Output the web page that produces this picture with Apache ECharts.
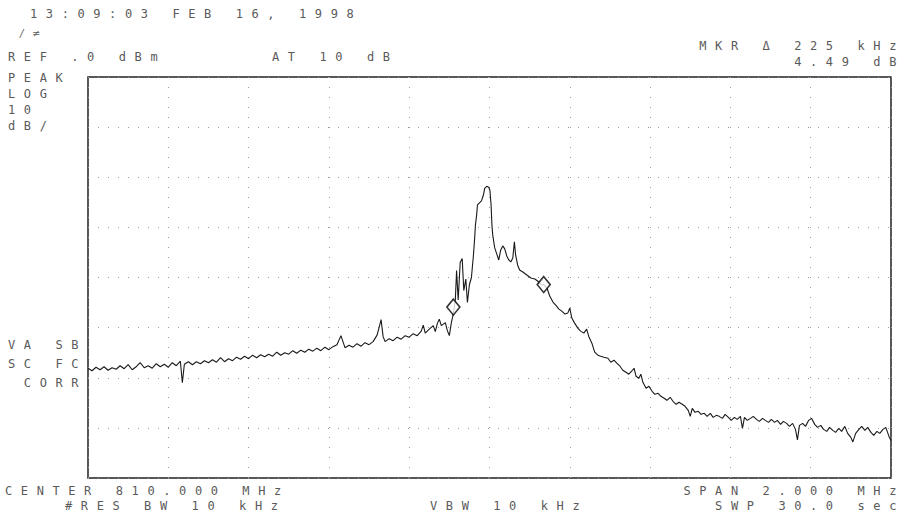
<!DOCTYPE html>
<html>
<head>
<meta charset="utf-8">
<script src="https://cdn.jsdelivr.net/npm/echarts@6/dist/echarts.min.js"></script>
<style>
  html, body { margin: 0; padding: 0; background: #fff; }
  #chart { width: 908px; height: 519px; }
  /* analyzer screen annotation uses a wide character pitch */
  #chart text { letter-spacing: 8.6px; }
</style>
</head>
<body>
<div id="chart"></div>
<script>
// Sweep settings
const startMHz = 809.0;
const stopMHz = 811.0;
const freqDivMHz = 0.2;
const refLevelDbm = 0;
const bottomLevelDbm = -80;
const dbPerDiv = 10;

// Swept trace: frequency (MHz) and level (dBm)
const traceFreq = [
  809.00, 809.01, 809.02, 809.03, 809.04, 809.05, 809.06, 809.07, 809.08, 809.09,
  809.10, 809.11, 809.12, 809.13, 809.14, 809.15, 809.16, 809.17, 809.18, 809.19,
  809.20, 809.21, 809.22, 809.23, 809.235, 809.24, 809.25, 809.26, 809.27, 809.28,
  809.29, 809.30, 809.31, 809.32, 809.33, 809.34, 809.35, 809.36, 809.37, 809.38,
  809.39, 809.40, 809.41, 809.42, 809.43, 809.44, 809.45, 809.46, 809.47, 809.48,
  809.49, 809.50, 809.51, 809.52, 809.53, 809.54, 809.55, 809.56, 809.57, 809.58,
  809.59, 809.60, 809.61, 809.62, 809.63, 809.64, 809.65, 809.66, 809.67, 809.68,
  809.69, 809.70, 809.71, 809.72, 809.73, 809.735, 809.74, 809.75, 809.76, 809.77,
  809.78, 809.79, 809.80, 809.81, 809.82, 809.83, 809.835, 809.84, 809.85, 809.86,
  809.865, 809.87, 809.875, 809.88, 809.89, 809.895, 809.90, 809.905, 809.91, 809.915,
  809.918, 809.922, 809.927, 809.932, 809.936, 809.941, 809.945, 809.950, 809.955, 809.960,
  809.963, 809.965, 809.968, 809.970, 809.975, 809.980, 809.985, 809.988, 809.993, 809.998,
  810.001, 810.004, 810.006, 810.008, 810.013, 810.018, 810.023, 810.028, 810.033, 810.038,
  810.043, 810.048, 810.053, 810.058, 810.062, 810.065, 810.070, 810.075, 810.083, 810.093,
  810.103, 810.113, 810.123, 810.130, 810.135, 810.143, 810.150, 810.158, 810.165, 810.173,
  810.180, 810.188, 810.195, 810.200, 810.205, 810.212, 810.220, 810.227, 810.235, 810.242,
  810.247, 810.255, 810.262, 810.270, 810.277, 810.285, 810.295, 810.302, 810.310, 810.317,
  810.325, 810.332, 810.340, 810.347, 810.354, 810.360, 810.365, 810.372, 810.377, 810.382,
  810.390, 810.397, 810.405, 810.412, 810.420, 810.427, 810.435, 810.442, 810.450, 810.457,
  810.465, 810.472, 810.480, 810.487, 810.495, 810.500, 810.505, 810.512, 810.520, 810.527,
  810.535, 810.542, 810.550, 810.557, 810.565, 810.572, 810.580, 810.587, 810.595, 810.602,
  810.610, 810.617, 810.625, 810.630, 810.635, 810.642, 810.650, 810.657, 810.665, 810.672,
  810.680, 810.687, 810.695, 810.702, 810.710, 810.717, 810.725, 810.732, 810.740, 810.747,
  810.755, 810.762, 810.767, 810.772, 810.780, 810.787, 810.795, 810.802, 810.810, 810.817,
  810.825, 810.832, 810.840, 810.847, 810.855, 810.862, 810.870, 810.877, 810.885, 810.892,
  810.900, 810.905, 810.912, 810.920, 810.927, 810.935, 810.942, 810.950, 810.957, 810.965,
  810.972, 810.980, 810.987, 810.995, 811.000
];
const traceLevel = [
  -58.1, -58.6, -57.9, -58.4, -57.8, -58.5, -58.0, -58.3, -57.6, -58.2,
  -57.4, -58.4, -57.8, -57.0, -58.0, -57.6, -58.1, -57.2, -57.8, -57.3,
  -57.9, -57.0, -57.6, -56.7, -61.0, -57.3, -56.8, -57.4, -56.8, -57.2,
  -56.6, -57.0, -56.4, -56.9, -56.0, -56.8, -56.2, -56.6, -55.9, -56.3,
  -55.7, -56.2, -55.5, -56.0, -55.4, -55.8, -55.3, -55.7, -54.9, -55.5,
  -55.0, -55.3, -54.6, -55.1, -54.5, -54.9, -54.3, -54.7, -54.1, -54.6,
  -53.9, -54.4, -53.8, -53.4, -51.6, -54.0, -53.5, -53.9, -53.2, -53.7,
  -53.0, -53.4, -52.8, -51.5, -48.4, -51.8, -52.8, -52.2, -52.6, -51.9,
  -52.3, -51.6, -51.9, -51.2, -51.6, -50.7, -49.5, -51.1, -50.3, -49.6,
  -50.8, -49.2, -48.3, -49.6, -49.0, -50.6, -51.6, -49.0, -47.2, -44.3,
  -38.6, -44.5, -37.0, -36.2, -42.6, -40.3, -45.0, -41.4, -40.0, -35.5,
  -32.2, -29.5, -27.5, -25.5, -25.1, -24.7, -23.5, -22.2, -21.8, -22.0,
  -22.6, -25.6, -29.5, -31.5, -34.1, -35.3, -36.5, -34.5, -33.7, -34.3,
  -35.7, -36.5, -36.9, -36.1, -32.9, -35.5, -37.5, -38.5, -38.9, -39.5,
  -40.1, -40.3, -40.9, -41.5, -41.4, -42.1, -43.7, -44.9, -45.5, -46.3,
  -46.7, -47.3, -47.1, -46.1, -48.1, -49.1, -50.1, -50.7, -51.1, -50.3,
  -51.7, -53.1, -54.9, -55.5, -55.7, -55.9, -56.1, -56.9, -56.5, -57.1,
  -57.7, -58.5, -58.9, -59.3, -58.7, -58.1, -59.7, -60.1, -59.3, -60.9,
  -62.1, -61.7, -62.7, -63.3, -63.1, -63.7, -64.1, -64.5, -63.9, -64.7,
  -65.3, -64.9, -65.3, -65.7, -66.5, -67.7, -66.1, -66.9, -66.7, -67.3,
  -67.1, -67.7, -67.1, -67.9, -67.5, -67.7, -68.1, -67.3, -67.9, -68.5,
  -67.9, -68.3, -67.7, -70.1, -67.9, -68.5, -68.1, -67.7, -68.3, -68.7,
  -68.1, -68.5, -68.9, -68.3, -68.9, -68.5, -69.3, -68.7, -69.1, -69.7,
  -69.1, -70.3, -72.4, -69.5, -69.1, -69.7, -68.5, -68.1, -69.3, -69.9,
  -69.5, -70.3, -70.7, -69.9, -70.5, -70.9, -70.1, -70.7, -69.7, -71.1,
  -71.9, -72.8, -71.1, -70.3, -69.7, -70.5, -69.9, -70.9, -71.5, -70.7,
  -71.1, -70.3, -69.9, -71.7, -72.5
];

// Reference marker and delta marker
const markerFreq = [809.910, 810.135];
const markerLevel = [-45.90, -41.41];

// Screen annotations
const headerTime = '13:09:03 FEB 16, 1998';
const refText = 'REF .0 dBm';
const attenText = 'AT 10 dB';
const mkrText = 'MKR \u0394 225 kHz';
const mkrValText = '4.49 dB';
const scaleTexts = ['PEAK', 'LOG', '10', 'dB/'];
const modeTexts = ['VA SB', 'SC FC', ' CORR'];
const centerText = 'CENTER 810.000 MHz';
const rbwText = '#RES BW 10 kHz';
const vbwText = 'VBW 10 kHz';
const spanText = 'SPAN 2.000 MHz';
const swpText = 'SWP 30.0 sec';

const FONT = '12px "DejaVu Sans Mono"';
const INK = '#5a5a5a';

function label(text, x, y, align) {
  return {
    type: 'text',
    silent: true,
    style: {
      text: text, x: x, y: y,
      font: FONT, fill: INK,
      textAlign: align || 'left',
      textVerticalAlign: 'middle'
    }
  };
}

const chart = echarts.init(document.getElementById('chart'), null, { renderer: 'svg' });

const tracePoints = traceFreq.map((f, i) => [f, traceLevel[i]]);
const markerPoints = markerFreq.map((f, i) => [f, markerLevel[i]]);

const graphics = [
  label(headerTime, 30, 14),
  {
    type: 'text', silent: true,
    style: { text: '/\u2260', x: 20, y: 33, font: 'italic 10px "DejaVu Sans"', fill: INK, textVerticalAlign: 'middle' }
  },
  label(refText, 8, 57),
  label(attenText, 272, 57),
  label(mkrText, 905, 46, 'right'),
  label(mkrValText, 905, 62, 'right'),
  label(centerText, 5, 491),
  label(rbwText, 65, 506),
  label(vbwText, 430, 506),
  label(spanText, 905, 491, 'right'),
  label(swpText, 905, 506, 'right')
];
scaleTexts.forEach((t, i) => graphics.push(label(t, 8, 78 + i * 16)));
modeTexts.forEach((t, i) => graphics.push(label(t, 8, 345 + i * 19)));

const dotted = { color: '#9a9a9a', width: 1, type: [1, 9] };

chart.setOption({
  animation: false,
  backgroundColor: '#fff',
  grid: {
    left: 88, right: 17, top: 77, bottom: 41,
    show: true, borderColor: '#222', borderWidth: 1.5, backgroundColor: 'transparent'
  },
  xAxis: {
    type: 'value',
    min: startMHz, max: stopMHz, interval: freqDivMHz,
    axisLine: { show: false }, axisTick: { show: false }, axisLabel: { show: false },
    splitLine: { show: true, lineStyle: dotted }
  },
  yAxis: {
    type: 'value',
    min: bottomLevelDbm, max: refLevelDbm, interval: dbPerDiv,
    axisLine: { show: false }, axisTick: { show: false }, axisLabel: { show: false },
    splitLine: { show: true, lineStyle: dotted }
  },
  series: [
    {
      type: 'line',
      data: tracePoints,
      showSymbol: false,
      lineStyle: { color: '#1a1a1a', width: 1.1 },
      z: 3
    },
    {
      type: 'scatter',
      data: markerPoints,
      symbol: 'diamond',
      symbolSize: [13, 16],
      itemStyle: { color: '#fff', borderColor: '#000', borderWidth: 1.6 },
      z: 5
    }
  ],
  graphic: graphics
});
</script>
</body>
</html>
